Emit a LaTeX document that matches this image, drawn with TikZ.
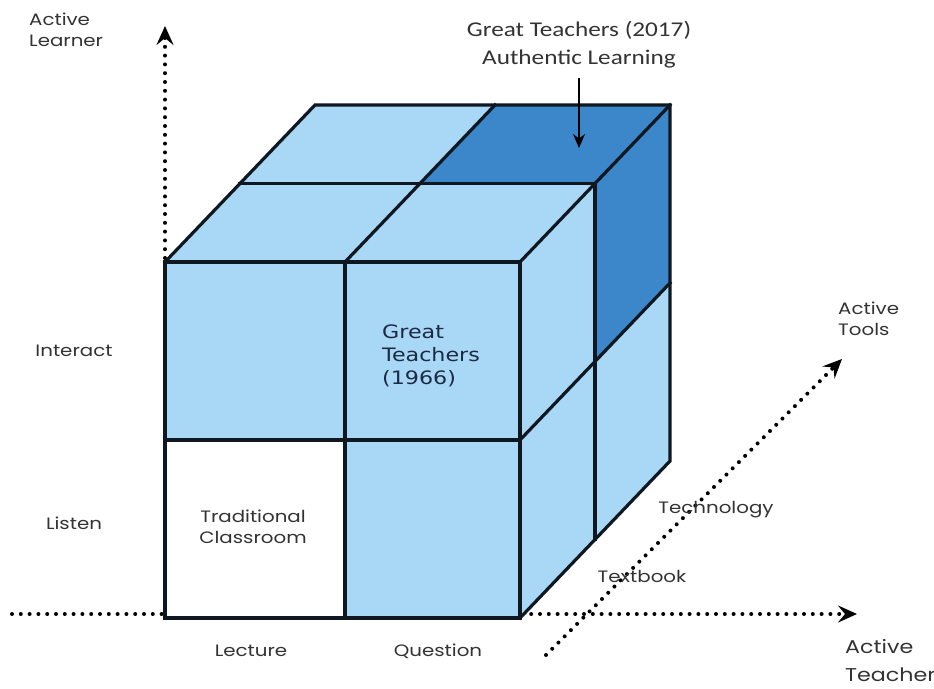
\documentclass[tikz,border=0pt]{standalone}
\usepackage{fontspec}
\usetikzlibrary{arrows.meta}
\newfontfamily\axfont[FakeStretch=1.2]{Poppins}
\newfontfamily\calfont[FakeStretch=1.2]{Carlito}
\newfontfamily\djfont[FakeStretch=1.2]{DejaVu Sans}
\definecolor{lightb}{HTML}{A9D7F6}
\definecolor{darkb}{HTML}{3B87C9}
\definecolor{edgec}{HTML}{0F1721}
\definecolor{labc}{HTML}{333333}
\definecolor{navyc}{HTML}{1C2B45}
\tikzset{
  axlab/.style={text=labc, inner sep=0pt, font={\axfont\fontsize{16.5}{20.5}\selectfont}},
  cubeedge/.style={draw=edgec, line width=3.2pt, line join=miter, line cap=rect},
  dotaxis/.style={draw=black, line width=4pt, line cap=round, dash pattern=on 0pt off 8.8pt,
    -{Stealth[length=19pt,width=17pt,inset=7pt]}},
}
\begin{document}
\begin{tikzpicture}[x=1pt,y=-1pt]
\useasboundingbox[fill=white] (0,0) rectangle (934,688);
% cube grid coordinates
\foreach \i/\x in {0/165,1/345,2/520}{
  \foreach \j/\y in {0/618,1/440,2/262}{
    \foreach \k in {0,1,2}{
      \coordinate (p\i\j\k) at ({\x+75*\k},{\y-78.5*\k});
    }}}
% axes
\coordinate (hs) at (12,614);
\coordinate (he) at (857,614);
\coordinate (vs) at (165,258);
\coordinate (ve) at (165,26);
\coordinate (ds) at (546,655);
\coordinate (de) at (842,359);
\draw[dotaxis] (hs) -- (he);
\draw[dotaxis] (vs) -- (ve);
\draw[dotaxis] (ds) -- (de);
% fills
\fill[lightb] (p000) -- (p200) -- (p220) -- (p020) -- cycle;
\fill[white] (p000) -- (p100) -- (p110) -- (p010) -- cycle;
\fill[lightb] (p020) -- (p220) -- (p222) -- (p022) -- cycle;
\fill[darkb] (p121) -- (p221) -- (p222) -- (p122) -- cycle;
\fill[lightb] (p200) -- (p202) -- (p222) -- (p220) -- cycle;
\fill[darkb] (p211) -- (p221) -- (p222) -- (p212) -- cycle;
% edges
\draw[cubeedge] (p000) -- (p200) -- (p220) -- (p020) -- cycle;
\draw[cubeedge] (p100) -- (p120);
\draw[cubeedge] (p010) -- (p210);
\draw[cubeedge] (p020) -- (p022) -- (p222) -- (p202) -- (p200);
\draw[cubeedge] (p220) -- (p222);
\draw[cubeedge] (p021) -- (p221) -- (p201);
\draw[cubeedge] (p120) -- (p122);
\draw[cubeedge] (p210) -- (p212);
% labels
\node[axlab, align=left, anchor=north west] (alearn) at (29,13) {Active\\Learner};
\node[axlab, align=left, anchor=north west] (atools) at (838,302) {Active\\Tools};
\node[axlab, align=left, anchor=north west, font={\axfont\fontsize{18.5}{28}\selectfont}] (ateach) at (845,639) {Active\\Teacher};
\node[axlab] (interact) at (74,351) {Interact};
\node[axlab] (listen) at (74,523) {Listen};
\node[axlab] (lecture) at (251,651) {Lecture};
\node[axlab] (question) at (438,651) {Question};
\node[axlab] (textbook) at (642,576) {Textbook};
\node[axlab] (technology) at (716,510) {Technology};
\node[axlab, align=center] (trad) at (253,527) {Traditional\\Classroom};
\node[text=navyc, inner sep=0pt, align=left, anchor=north west, font={\djfont\fontsize{18.5}{23}\selectfont}] (gt66) at (382,325) {Great\\Teachers\\(1966)};
\node[text=labc, inner sep=0pt, align=center, font={\calfont\fontsize{21}{28}\selectfont}] (gt17) at (579,45) {Great Teachers (2017)\\Authentic Learning};
\coordinate (a17s) at (579,78);
\coordinate (a17e) at (579,148);
\draw[line width=1.4pt, -{Stealth[length=14pt,width=12pt,inset=4.5pt]}] (a17s) -- (a17e);
\end{tikzpicture}
\end{document}
